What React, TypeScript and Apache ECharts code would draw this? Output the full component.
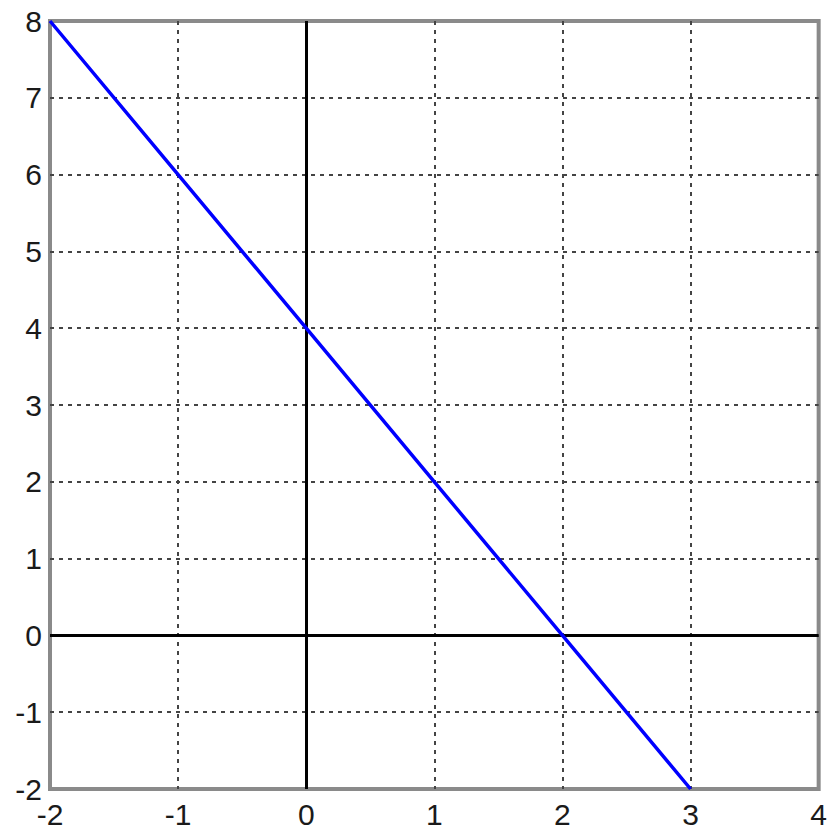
import React, { useEffect, useRef } from "react";
import * as echarts from "echarts";

const xValues = [-2, -1, 0, 1, 2, 3];
const yValues = [8, 6, 4, 2, 0, -2];
const xRange = [-2, 4];
const yRange = [-2, 8];

export default function App() {
  const ref = useRef<HTMLDivElement>(null);
  useEffect(() => {
    if (!ref.current) return;
    const chart = echarts.init(ref.current, null, { renderer: "svg" });
    const labelStyle = {
      color: "#1a1a1a",
      fontSize: 30,
      fontFamily: "Liberation Sans, Arial, sans-serif",
    };
    const splitLine = {
      show: true,
      showMinLine: false,
      showMaxLine: false,
      lineStyle: { color: "#444", width: 2, type: [4, 5] as any },
    };
    chart.setOption({
      animation: false,
      backgroundColor: "#fff",
      grid: {
        left: 50,
        right: 10,
        top: 21,
        bottom: 42,
        show: true,
        borderColor: "#8a8a8a",
        borderWidth: 4,
        backgroundColor: "#fff",
      },
      xAxis: {
        type: "value",
        min: xRange[0],
        max: xRange[1],
        interval: 1,
        axisLine: { show: false },
        axisTick: { show: false },
        axisLabel: { ...labelStyle, margin: 10 },
        splitLine,
      },
      yAxis: {
        type: "value",
        min: yRange[0],
        max: yRange[1],
        interval: 1,
        axisLine: { show: false },
        axisTick: { show: false },
        axisLabel: { ...labelStyle, margin: 8 },
        splitLine,
      },
      series: [
        {
          type: "line",
          data: xValues.map((x, i) => [x, yValues[i]]),
          showSymbol: false,
          lineStyle: { color: "#0000ff", width: 3.5 },
          z: 5,
          markLine: {
            silent: true,
            symbol: "none",
            label: { show: false },
            lineStyle: { color: "#000", width: 3, type: "solid" },
            data: [{ xAxis: 0 }, { yAxis: 0 }],
            z: 3,
          },
        },
      ],
    });
    return () => chart.dispose();
  }, []);
  return (
    <div
      ref={ref}
      style={{ position: "fixed", left: 0, top: 0, width: 830, height: 831 }}
    />
  );
}
